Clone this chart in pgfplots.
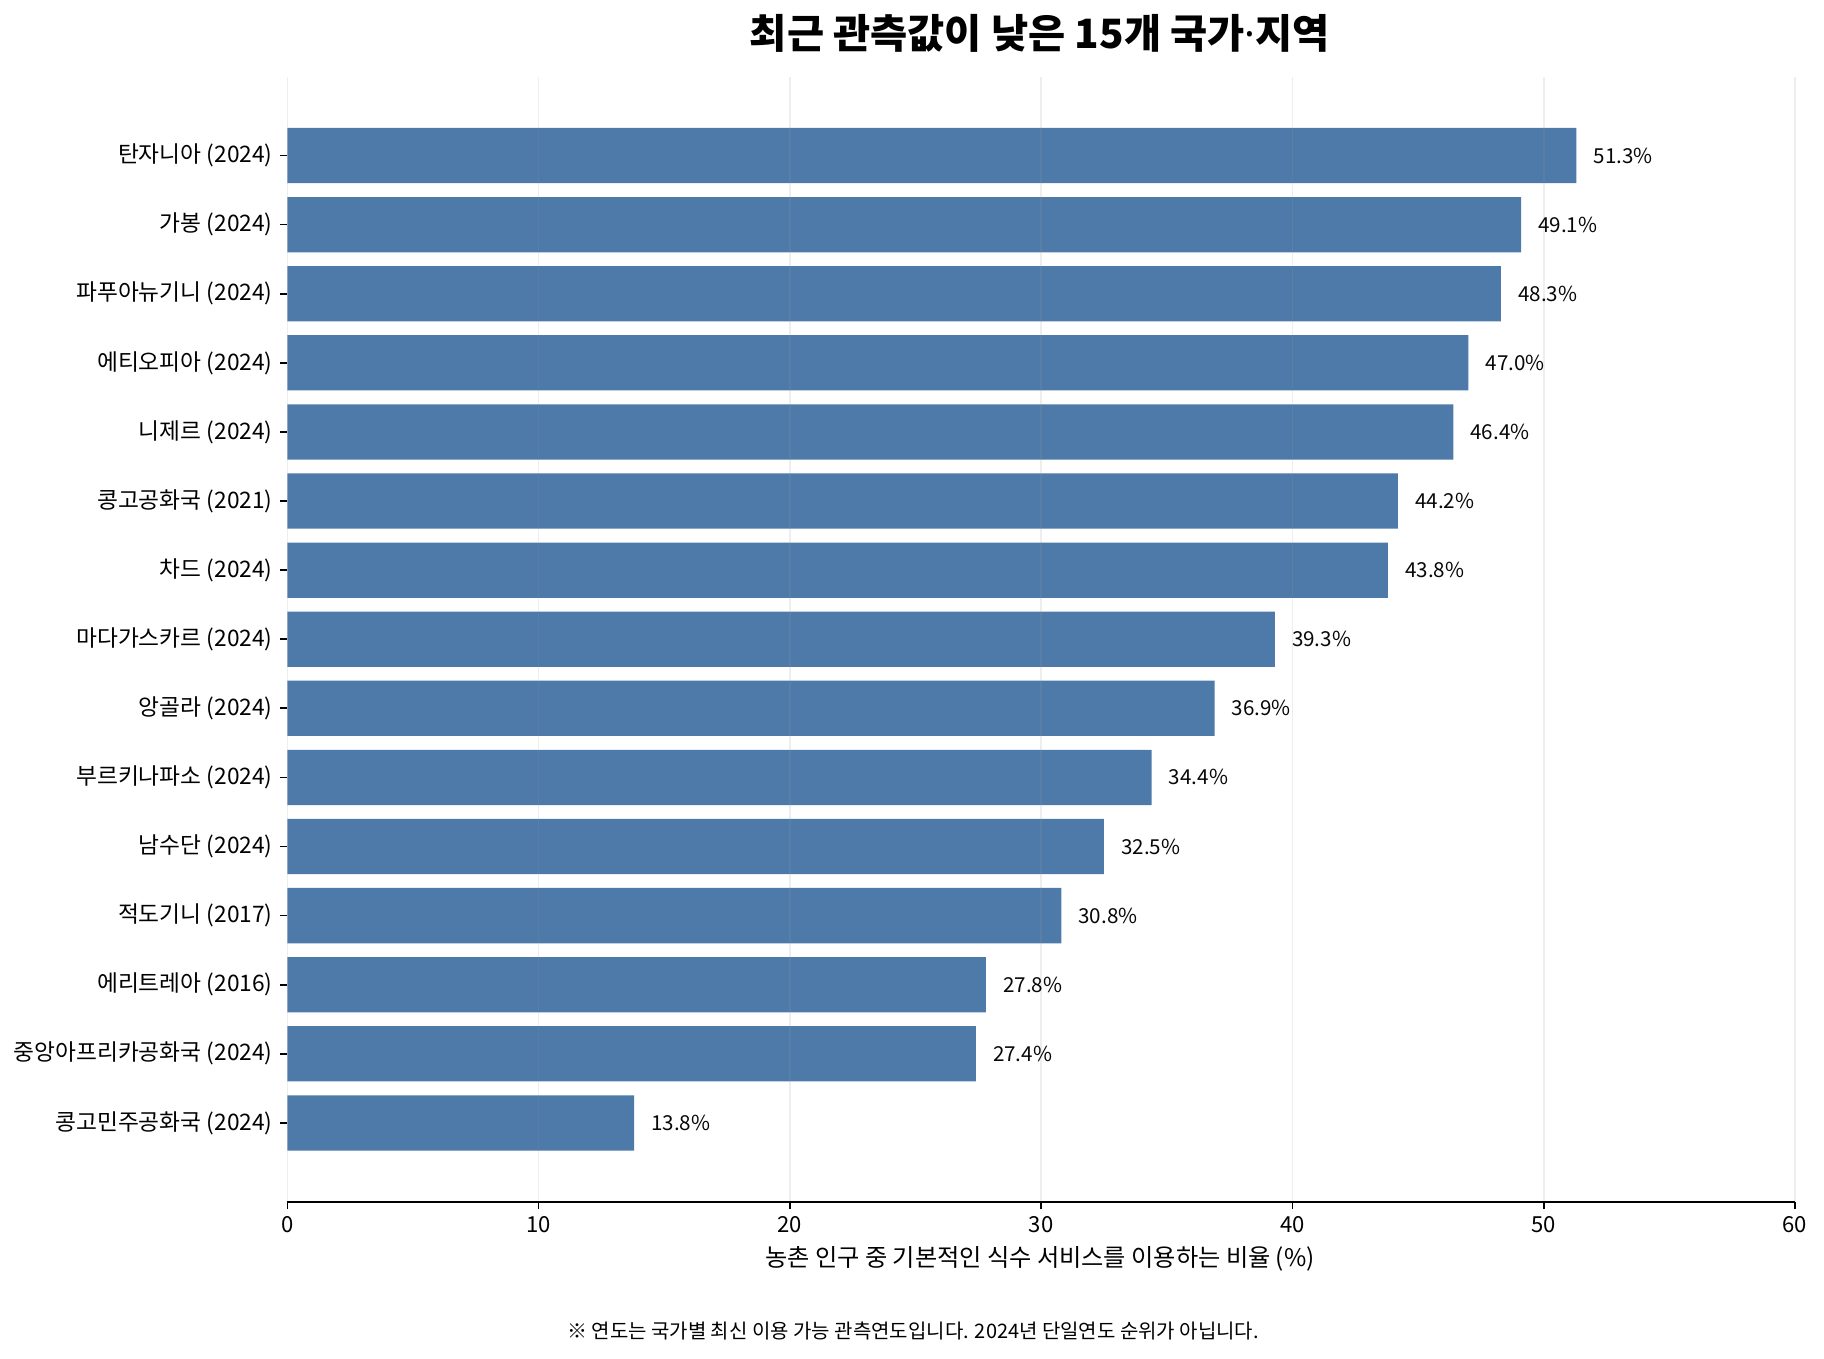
\documentclass[border=0pt]{standalone}
\usepackage{pgfplots}
\pgfplotsset{compat=1.18}
\usepackage{fontspec}
\setmainfont{Noto Sans CJK KR}
\newfontfamily\latinfont{Noto Sans}
\definecolor{barblue}{RGB}{72,118,166}
\definecolor{gridc}{RGB}{150,150,150}
\pgfplotstableread{
y x
0 13.8
1 27.4
2 27.8
3 30.8
4 32.5
5 34.4
6 36.9
7 39.3
8 43.8
9 44.2
10 46.4
11 47.0
12 48.3
13 49.1
14 51.3
}\datatable
\begin{document}
\begin{tikzpicture}
\useasboundingbox (0,0) rectangle (867pt,645.8pt);
\begin{axis}[
  at={(136.6pt,74.6pt)}, anchor=south west,
  width=716.6pt, height=534.7pt, scale only axis,
  xbar, bar width=0.8, bar shift=0pt,
  xmin=0, xmax=60, ymin=-1.14, ymax=15.14,
  xtick={0,10,...,60}, ytick={0,...,14},
  yticklabels={콩고민주공화국 (2024),중앙아프리카공화국 (2024),에리트레아 (2016),적도기니 (2017),남수단 (2024),부르키나파소 (2024),앙골라 (2024),마다가스카르 (2024),차드 (2024),콩고공화국 (2021),니제르 (2024),에티오피아 (2024),파푸아뉴기니 (2024),가봉 (2024),탄자니아 (2024)},
  axis x line*=bottom, axis y line*=left,
  y axis line style={draw=none},
  x axis line style={line width=0.8pt, black},
  tick align=outside, major tick length=3.5pt,
  tick style={black, line width=0.8pt},
  xmajorgrids, ymajorgrids=false,
  major grid style={gridc, opacity=0.16, line width=0.8pt},
  axis on top,
  /pgf/number format/assume math mode=true,
  xticklabel style={font=\fontsize{10.5}{12}\selectfont},
  yticklabel style={font=\fontsize{10.8}{12}\selectfont},
  nodes near coords={\pgfmathprintnumber[fixed,precision=1,fixed zerofill]{\pgfplotspointmeta}\%},
  point meta=x,
  nodes near coords style={anchor=west, inner sep=0pt, xshift=8pt, font=\fontsize{9.8}{12}\selectfont, black},
]
\addplot[fill=barblue, fill opacity=0.97, draw=none] table[x=x, y=y] {\datatable};
\end{axis}
\node[anchor=base, font=\fontsize{19.2}{21}\selectfont\bfseries] at (494.3pt,622.6pt) {최근 관측값이 낮은 15개 국가{\latinfont\bfseries ·}지역};
\node[anchor=base, font=\fontsize{11.5}{13}\selectfont] at (494.3pt,43.7pt) {농촌 인구 중 기본적인 식수 서비스를 이용하는 비율 (\%)};
\node[anchor=base, font=\fontsize{9.5}{11}\selectfont] at (434pt,9.4pt) {※ 연도는 국가별 최신 이용 가능 관측연도입니다. 2024년 단일연도 순위가 아닙니다.};
\end{tikzpicture}
\end{document}
